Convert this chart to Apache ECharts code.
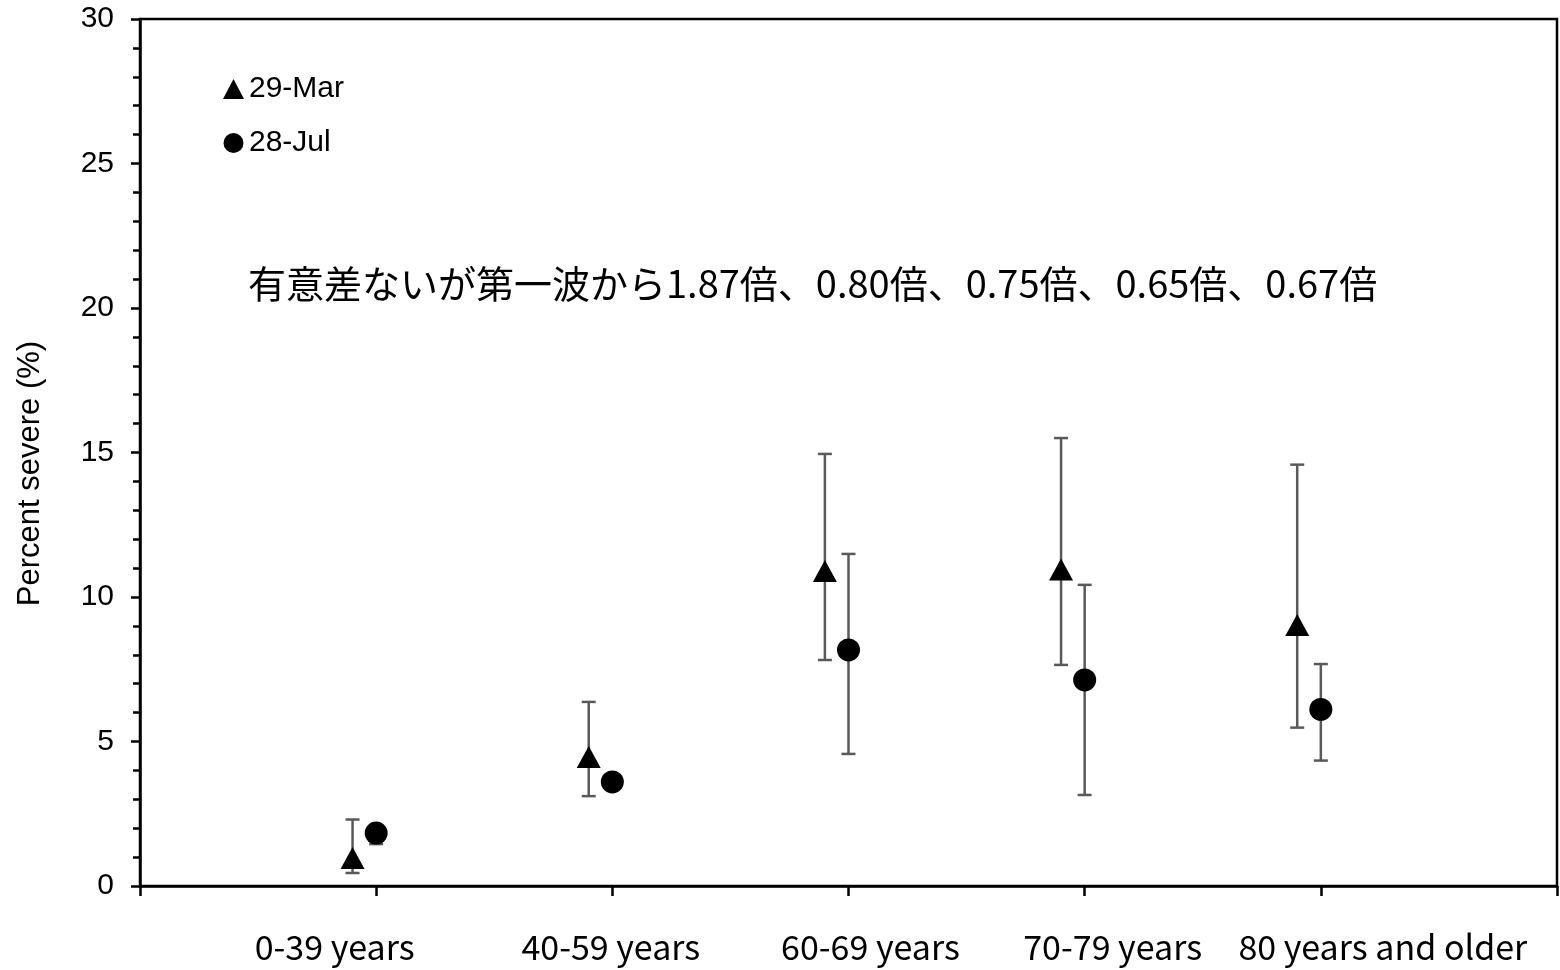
<!DOCTYPE html>
<html>
<head>
<meta charset="utf-8">
<script src="https://cdn.jsdelivr.net/npm/echarts@6/dist/echarts.min.js"></script>
<style>
  html, body { margin: 0; padding: 0; background: #fff; }
  #chart { width: 1560px; height: 970px; }
</style>
</head>
<body>
<div id="chart"></div>
<script>
// 年齢区分
const categories = ['0-39 years', '40-59 years', '60-69 years', '70-79 years', '80 years and older'];

// 29-Mar (第一波)
const marValues = [0.97, 4.46, 10.9, 10.95, 9.03];
const marLow = [0.45, 3.11, 7.82, 7.65, 5.48];
const marHigh = [2.3, 6.37, 14.95, 15.5, 14.58];

// 28-Jul
const julValues = [1.83, 3.6, 8.17, 7.13, 6.11];
const julLow = [1.45, 3.35, 4.57, 3.15, 4.34];
const julHigh = [2.1, 3.85, 11.49, 10.42, 7.68];

const yTicks = [0, 5, 10, 15, 20, 25, 30];
const note = '有意差ないが第一波から1.87倍、0.80倍、0.75倍、0.65倍、0.67倍';

const marOffset = -0.1;

const marPoints = marValues.map((v, i) => [i + 1 + marOffset, v]);
const julPoints = julValues.map((v, i) => [i + 1, v]);
const errData = [
  ...marValues.map((v, i) => [i + 1 + marOffset, marLow[i], marHigh[i]]),
  ...julValues.map((v, i) => [i + 1, julLow[i], julHigh[i]])
];

// ラベルの横ずれ (元図ではティックの中心からずれている)
const labelPad = [[0, 83, 0, 0], [0, 3, 0, 0], [0, 0, 0, 44], [0, 0, 0, 56], [0, 0, 0, 124]];
const labelFont = { fontFamily: 'Noto Sans CJK JP', fontSize: 34, color: '#000' };
const richLabels = {};
labelPad.forEach((p, i) => {
  richLabels['s' + i] = { ...labelFont, padding: p };
});

// エラーバー描画
const renderErrorBar = (params, api) => {
  const x = api.value(0);
  const lo = api.coord([x, api.value(1)]);
  const hi = api.coord([x, api.value(2)]);
  const half = 7;
  const style = { stroke: '#595959', lineWidth: 2.5 };
  return {
    type: 'group',
    children: [
      { type: 'line', shape: { x1: lo[0], y1: lo[1], x2: hi[0], y2: hi[1] }, style },
      { type: 'line', shape: { x1: lo[0] - half, y1: lo[1], x2: lo[0] + half, y2: lo[1] }, style },
      { type: 'line', shape: { x1: hi[0] - half, y1: hi[1], x2: hi[0] + half, y2: hi[1] }, style }
    ]
  };
};

const chart = echarts.init(document.getElementById('chart'));

const option = {
  backgroundColor: '#fff',
  animation: false,
  grid: {
    left: 140,
    right: 2,
    top: 19,
    bottom: 84,
    show: true,
    borderColor: '#000',
    borderWidth: 2.5
  },
  legend: {
    orient: 'vertical',
    left: 218,
    top: 69,
    itemWidth: 21,
    itemHeight: 20,
    itemGap: 24,
    textStyle: { fontFamily: 'Liberation Sans', fontSize: 30, color: '#000' },
    data: [
      { name: '29-Mar', icon: 'triangle', itemStyle: { color: '#000', opacity: 1 } },
      { name: '28-Jul', icon: 'circle', itemStyle: { color: '#000', opacity: 1 } }
    ]
  },
  xAxis: {
    type: 'value',
    min: 0,
    max: 6,
    interval: 1,
    splitLine: { show: false },
    axisLine: { lineStyle: { color: '#000', width: 2.5 } },
    axisTick: { inside: false, length: 10, lineStyle: { color: '#000', width: 2.5 } },
    axisLabel: {
      margin: 44,
      ...labelFont,
      rich: richLabels,
      formatter: (v) => (categories[v - 1] ? `{s${v - 1}|${categories[v - 1]}}` : '')
    }
  },
  yAxis: {
    type: 'value',
    min: 0,
    max: 30,
    interval: 5,
    name: 'Percent severe (%)',
    nameLocation: 'middle',
    nameGap: 94,
    nameTextStyle: { fontFamily: 'Liberation Sans', fontSize: 31, color: '#000', padding: [0, 42, 0, 0] },
    splitLine: { show: false },
    axisLine: { lineStyle: { color: '#000', width: 2.5 } },
    axisTick: { inside: false, length: 9, lineStyle: { color: '#000', width: 2.5 } },
    minorTick: { show: true, splitNumber: 5, length: 7, lineStyle: { color: '#000', width: 2.5 } },
    minorSplitLine: { show: false },
    axisLabel: {
      margin: 26,
      fontFamily: 'Liberation Sans',
      fontSize: 30,
      color: '#000',
      formatter: (v) => (yTicks.includes(v) ? String(v) : '')
    }
  },
  graphic: [
    {
      type: 'text',
      left: 248,
      top: 265,
      style: {
        text: note,
        fontFamily: 'Noto Sans CJK JP',
        fontSize: 38,
        fill: '#000'
      }
    }
  ],
  series: [
    {
      type: 'custom',
      name: 'err',
      renderItem: renderErrorBar,
      data: errData,
      encode: { x: 0, y: [1, 2] },
      z: 1,
      silent: true
    },
    {
      type: 'scatter',
      name: '29-Mar',
      symbol: 'triangle',
      symbolSize: [24, 22],
      itemStyle: { color: '#000', opacity: 1 },
      data: marPoints,
      z: 3
    },
    {
      type: 'scatter',
      name: '28-Jul',
      symbol: 'circle',
      symbolSize: 23,
      itemStyle: { color: '#000', opacity: 1 },
      data: julPoints,
      z: 3
    }
  ]
};

chart.setOption(option);
</script>
</body>
</html>
